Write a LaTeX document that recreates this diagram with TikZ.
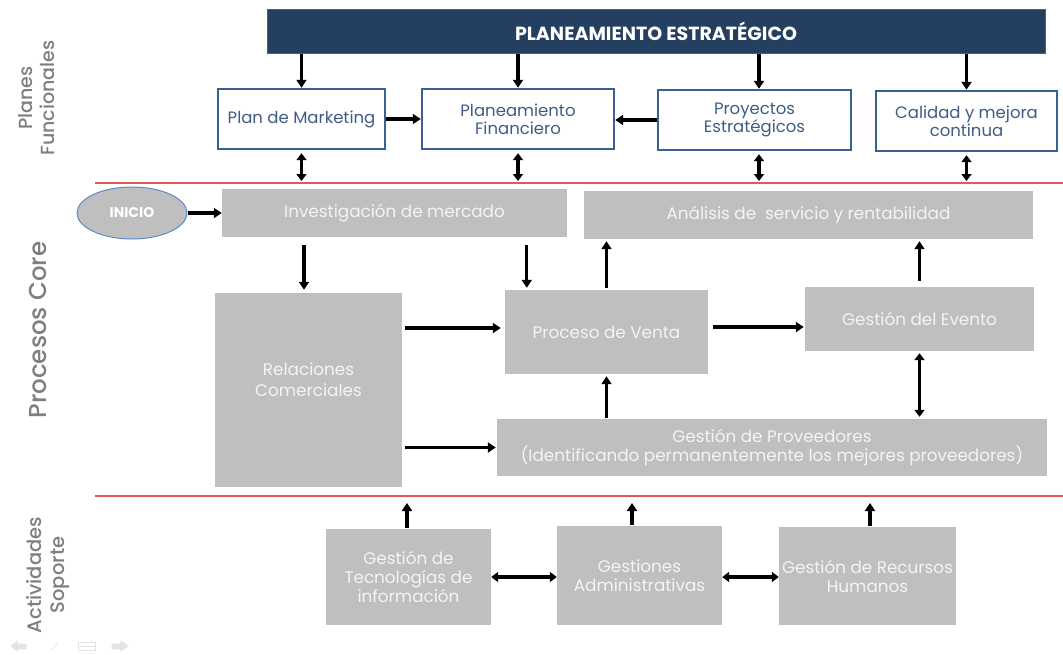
\documentclass[tikz,border=0pt]{standalone}
\usepackage{fontspec}
\setmainfont{Poppins}
\newfontfamily\sidefont{Poppins Medium}
\usetikzlibrary{arrows.meta,shapes.geometric}

\definecolor{navy}{HTML}{243F60}
\definecolor{navyedge}{HTML}{41618A}
\definecolor{planblue}{HTML}{3A6194}
\definecolor{plantext}{HTML}{3F5C85}
\definecolor{boxgrey}{HTML}{BFBFBF}
\definecolor{boxtext}{HTML}{F4F4F4}
\definecolor{sidegrey}{HTML}{7F7F7F}
\definecolor{divider}{HTML}{E05A5A}
\definecolor{ovaledge}{HTML}{5B8BC9}
\definecolor{navgrey}{HTML}{E4E4E4}

\tikzset{
  header/.style={draw=navyedge, line width=1pt, fill=navy, text=white,
    inner sep=0pt, font=\fontsize{19}{22}\selectfont\bfseries},
  planbox/.style={draw=planblue, line width=2.4pt, fill=white, text=plantext,
    inner sep=0pt, align=center, font=\fontsize{16.5}{18}\selectfont},
  corebox/.style={fill=boxgrey, text=boxtext, inner sep=0pt, align=center,
    font=\fontsize{16.8}{19}\selectfont},
  boxtxt/.style={text=boxtext, align=center, inner sep=0pt,
    font=\fontsize{16.8}{21}\selectfont},
  startoval/.style={ellipse, draw=ovaledge, line width=1pt, fill=boxgrey,
    text=white, inner sep=0pt, font=\fontsize{14}{16}\selectfont\bfseries},
  sidelabel/.style={text=sidegrey, rotate=90, align=center, inner sep=0pt},
  arr/.style={line width=3.3pt, -{Triangle[length=8pt,width=10pt]}},
  dblarr/.style={line width=3.3pt, {Triangle[length=7pt,width=10pt]}-{Triangle[length=7pt,width=10pt]}},
  rule/.style={draw=divider, line width=1.1pt},
  navicon/.style={draw=navgrey, fill=navgrey, line width=0.8pt}
}

\begin{document}
\begin{tikzpicture}[x=1pt, y=-1pt]
\useasboundingbox (0,0) rectangle (1063,654);

% section dividers
\coordinate (l1a) at (95,183);
\coordinate (l1b) at (1063,183);
\coordinate (l2a) at (95,496);
\coordinate (l2b) at (1063,496);
\draw[rule] (l1a) -- (l1b);
\draw[rule] (l2a) -- (l2b);

% side labels
\node[sidelabel, font=\sidefont\fontsize{19}{22}\selectfont] (lplan) at (37,98) {Planes\\Funcionales};
\node[sidelabel, font=\sidefont\fontsize{24.5}{27}\selectfont] (lcore) at (38,330) {Procesos Core};
\node[sidelabel, font=\sidefont\fontsize{19.5}{23}\selectfont] (lsup) at (48,575) {Actividades\\Soporte};

% strategic planning band
\node[header, minimum width=778pt, minimum height=44pt] (head) at (656,31) {PLANEAMIENTO ESTRATÉGICO};

% functional plans
\node[planbox, minimum width=167pt, minimum height=60pt] (mkt) at (301.5,119) {Plan de Marketing};
\node[planbox, minimum width=192pt, minimum height=60pt] (fin) at (518,119) {Planeamiento\\Financiero};
\node[planbox, minimum width=193pt, minimum height=60pt] (pro) at (754.5,120) {Proyectos\\Estratégicos};
\node[planbox, minimum width=181pt, minimum height=60pt] (cal) at (966.5,121) {Calidad y mejora\\continua};

% core processes
\node[startoval, minimum width=110pt, minimum height=52pt] (ini) at (132,213) {INICIO};
\node[corebox, minimum width=345pt, minimum height=48pt] (inv) at (394.5,213) {Investigación de mercado};
\node[corebox, minimum width=449pt, minimum height=48pt] (ana) at (808.5,215) {Análisis de \ servicio y rentabilidad};
\node[corebox, minimum width=187pt, minimum height=194pt] (rel) at (308.5,390) {};
\node[boxtxt] (reltxt) at (308.5,380) {Relaciones\\Comerciales};
\node[corebox, minimum width=203pt, minimum height=84pt] (ven) at (606.5,332) {Proceso de Venta};
\node[corebox, minimum width=229pt, minimum height=64pt] (eve) at (919.5,319) {Gestión del Evento};
\node[corebox, minimum width=550pt, minimum height=57pt] (prv) at (772,447.5) {Gestión de Proveedores\\(Identificando permanentemente los mejores proveedores)};

% support activities
\node[corebox, minimum width=165pt, minimum height=96pt] (tec) at (408.5,577) {Gestión de\\Tecnologías de\\información};
\node[corebox, minimum width=165pt, minimum height=99pt] (adm) at (639.5,575.5) {Gestiones\\Administrativas};
\node[corebox, minimum width=177pt, minimum height=98pt] (rh) at (867.5,576) {Gestión de Recursos\\Humanos};

% strategy down to the functional plans
\draw[arr] (head.south -| mkt) -- (mkt.north);
\draw[arr] (head.south -| fin) -- (fin.north);
\coordinate (protop) at ([xshift=4.5pt]pro.north);
\draw[arr] (head.south -| protop) -- (protop);
\draw[arr] (head.south -| cal) -- (cal.north);

% links between plans
\draw[arr] (mkt.east) -- (fin.west);
\draw[arr] (pro.west) -- (pro.west -| fin.east);

% plans to core processes
\draw[dblarr, shorten <=3pt, shorten >=2pt] (mkt.south) -- (mkt.south |- l1a);
\draw[dblarr, shorten <=3pt, shorten >=2pt] (fin.south) -- (fin.south |- l1a);
\coordinate (probot) at ([xshift=4.5pt]pro.south);
\draw[dblarr, shorten <=3pt, shorten >=2pt] (probot) -- (probot |- l1a);
\draw[dblarr, shorten <=3pt, shorten >=2pt] (cal.south) -- (cal.south |- l1a);

% core flow
\draw[arr] (ini.east) -- (inv.west);
\coordinate (reltop) at ([xshift=-4.5pt]rel.north);
\draw[arr, shorten <=8pt, shorten >=3pt] (inv.south -| reltop) -- (reltop);
\coordinate (ventop) at ([xshift=22pt]ven.north west);
\draw[arr, shorten <=8pt, shorten >=2pt] (inv.south -| ventop) -- (ventop);
\draw[arr, shorten <=2pt, shorten >=2pt] (ven.north) -- (ven.north |- ana.south);
\draw[arr, shorten <=6pt, shorten >=2pt] (eve.north) -- (eve.north |- ana.south);
\draw[arr, shorten <=5pt, shorten >=1pt] ([yshift=5pt]ven.east) -- ([yshift=5pt]ven.east -| eve.west);
\draw[arr, shorten <=3pt, shorten >=4pt] ([yshift=4pt]ven.west -| rel.east) -- ([yshift=4pt]ven.west);
\draw[arr, shorten <=3pt, shorten >=1pt] (prv.west -| rel.east) -- (prv.west);
\draw[arr, shorten <=1pt, shorten >=2pt] (prv.north -| ven) -- (ven.south);
\draw[dblarr, shorten <=2pt, shorten >=2pt] (eve.south) -- (eve.south |- prv.north);

% support activities feeding the core
\coordinate (tectop) at ([xshift=-1.5pt]tec.north);
\draw[arr, shorten <=1pt, shorten >=7pt] (tectop) -- (tectop |- l2a);
\coordinate (admtop) at ([xshift=-7.5pt]adm.north);
\draw[arr, shorten <=1pt, shorten >=7pt] (admtop) -- (admtop |- l2a);
\coordinate (rhtop) at ([xshift=2.5pt]rh.north);
\draw[arr, shorten <=1pt, shorten >=7pt] (rhtop) -- (rhtop |- l2a);
\draw[dblarr] (tec.east) -- (adm.west |- tec.east);
\draw[dblarr] (adm.east |- tec.east) -- (rh.west |- tec.east);

% slide navigation controls
\draw[navicon] (11,646) -- (17,641) -- (17,644) -- (26,644) -- (26,649) -- (17,649) -- (17,651) -- cycle;
\draw[navicon] (50,651) -- (58,643);
\draw[navicon, fill=white] (78,642) rectangle (95,650);
\draw[navicon] (78,646) -- (95,646);
\draw[navicon] (128,646) -- (121,641) -- (121,644) -- (112,644) -- (112,649) -- (121,649) -- (121,651) -- cycle;
\end{tikzpicture}
\end{document}
